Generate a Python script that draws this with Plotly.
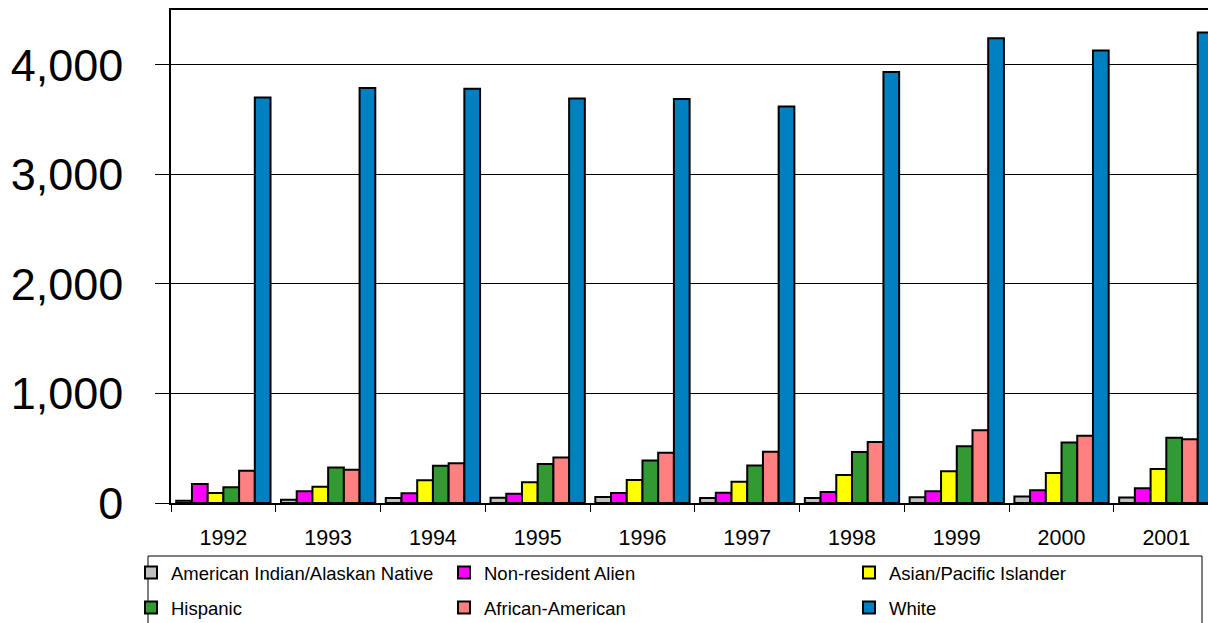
import plotly.graph_objects as go

years = ["1992", "1993", "1994", "1995", "1996", "1997", "1998", "1999", "2000", "2001"]

american_indian = [20, 30, 45, 48, 55, 45, 45, 52, 60, 50]
non_resident = [173, 107, 88, 85, 91, 94, 100, 107, 116, 134]
asian_pacific = [91, 149, 207, 189, 210, 195, 255, 289, 273, 310]
hispanic = [143, 325, 340, 355, 389, 343, 465, 519, 553, 595]
african_american = [295, 304, 362, 416, 458, 468, 556, 665, 613, 583]
white = [3702, 3788, 3781, 3693, 3687, 3620, 3933, 4243, 4130, 4294]

series = [
    ("American Indian/Alaskan Native", american_indian, "#C0C0C0", "legend"),
    ("Non-resident Alien", non_resident, "#FF00FF", "legend2"),
    ("Asian/Pacific Islander", asian_pacific, "#FFFF00", "legend3"),
    ("Hispanic", hispanic, "#339933", "legend"),
    ("African-American", african_american, "#FF8080", "legend2"),
    ("White", white, "#0080C0", "legend3"),
]

FONT = "Arial, 'Liberation Sans', sans-serif"

fig = go.Figure()
for i, (name, vals, color, lg) in enumerate(series):
    fig.add_trace(go.Bar(
        x=years, y=vals, name=name,
        marker=dict(color=color, line=dict(color="black", width=2)),
        legend=lg, legendgroup=f"g{i}",
    ))

OFF = 0  # page body margin (removed by post_script)
W, H = 1208, 623
L, R, T, B = 171, 0, 10, 120
pw = W - L - R
ph = H - T - B

def px_x(x):
    return (x - OFF - L) / pw

def px_y(y):
    return (H - B - (y - OFF)) / ph

leg_common = dict(
    font=dict(family=FONT, size=18.5, color="black"),
    bgcolor="rgba(0,0,0,0)",
    borderwidth=0,
    orientation="v",
    xanchor="left",
    yanchor="top",
    tracegroupgap=8,
    itemclick=False,
    itemdoubleclick=False,
)

fig.update_layout(
    width=W, height=H,
    margin=dict(l=L, r=R, t=T, b=B, pad=0, autoexpand=False),
    paper_bgcolor="white",
    plot_bgcolor="white",
    barmode="group",
    bargap=0.1,
    bargroupgap=0,
    font=dict(family=FONT, color="black"),
    showlegend=True,
    legend=dict(x=px_x(131), y=px_y(554), **leg_common),
    legend2=dict(x=px_x(444), y=px_y(554), **leg_common),
    legend3=dict(x=px_x(849), y=px_y(554), **leg_common),
    xaxis=dict(
        type="category",
        range=[-0.5, 9.398],
        showline=True, linecolor="black", linewidth=2,
        mirror=True,
        ticks="outside", ticklen=7, tickcolor="black", tickwidth=1,
        tickson="boundaries",
        showgrid=False,
        tickfont=dict(family=FONT, size=21.5, color="black"),
        ticklabelstandoff=14,
        automargin=False,
        fixedrange=True,
    ),
    yaxis=dict(
        range=[0, 4500],
        tickvals=[0, 1000, 2000, 3000, 4000],
        tickformat=",",
        showline=True, linecolor="black", linewidth=1.5,
        ticks="outside", ticklen=14, tickcolor="black", tickwidth=1,
        showgrid=True, gridcolor="black", gridwidth=1,
        zeroline=False,
        tickfont=dict(family=FONT, size=45, color="black"),
        ticklabelstandoff=23,
        automargin=False,
        fixedrange=True,
    ),
    shapes=[dict(
        type="rect", xref="paper", yref="paper",
        x0=px_x(148), x1=px_x(1202), y0=px_y(556), y1=px_y(630),
        line=dict(color="black", width=1), fillcolor="rgba(0,0,0,0)",
        layer="above",
    )],
)

fig.write_html(
    "out.html",
    config={"displayModeBar": False},
    post_script="document.body.style.margin='0';document.body.style.overflow='hidden';",
)
